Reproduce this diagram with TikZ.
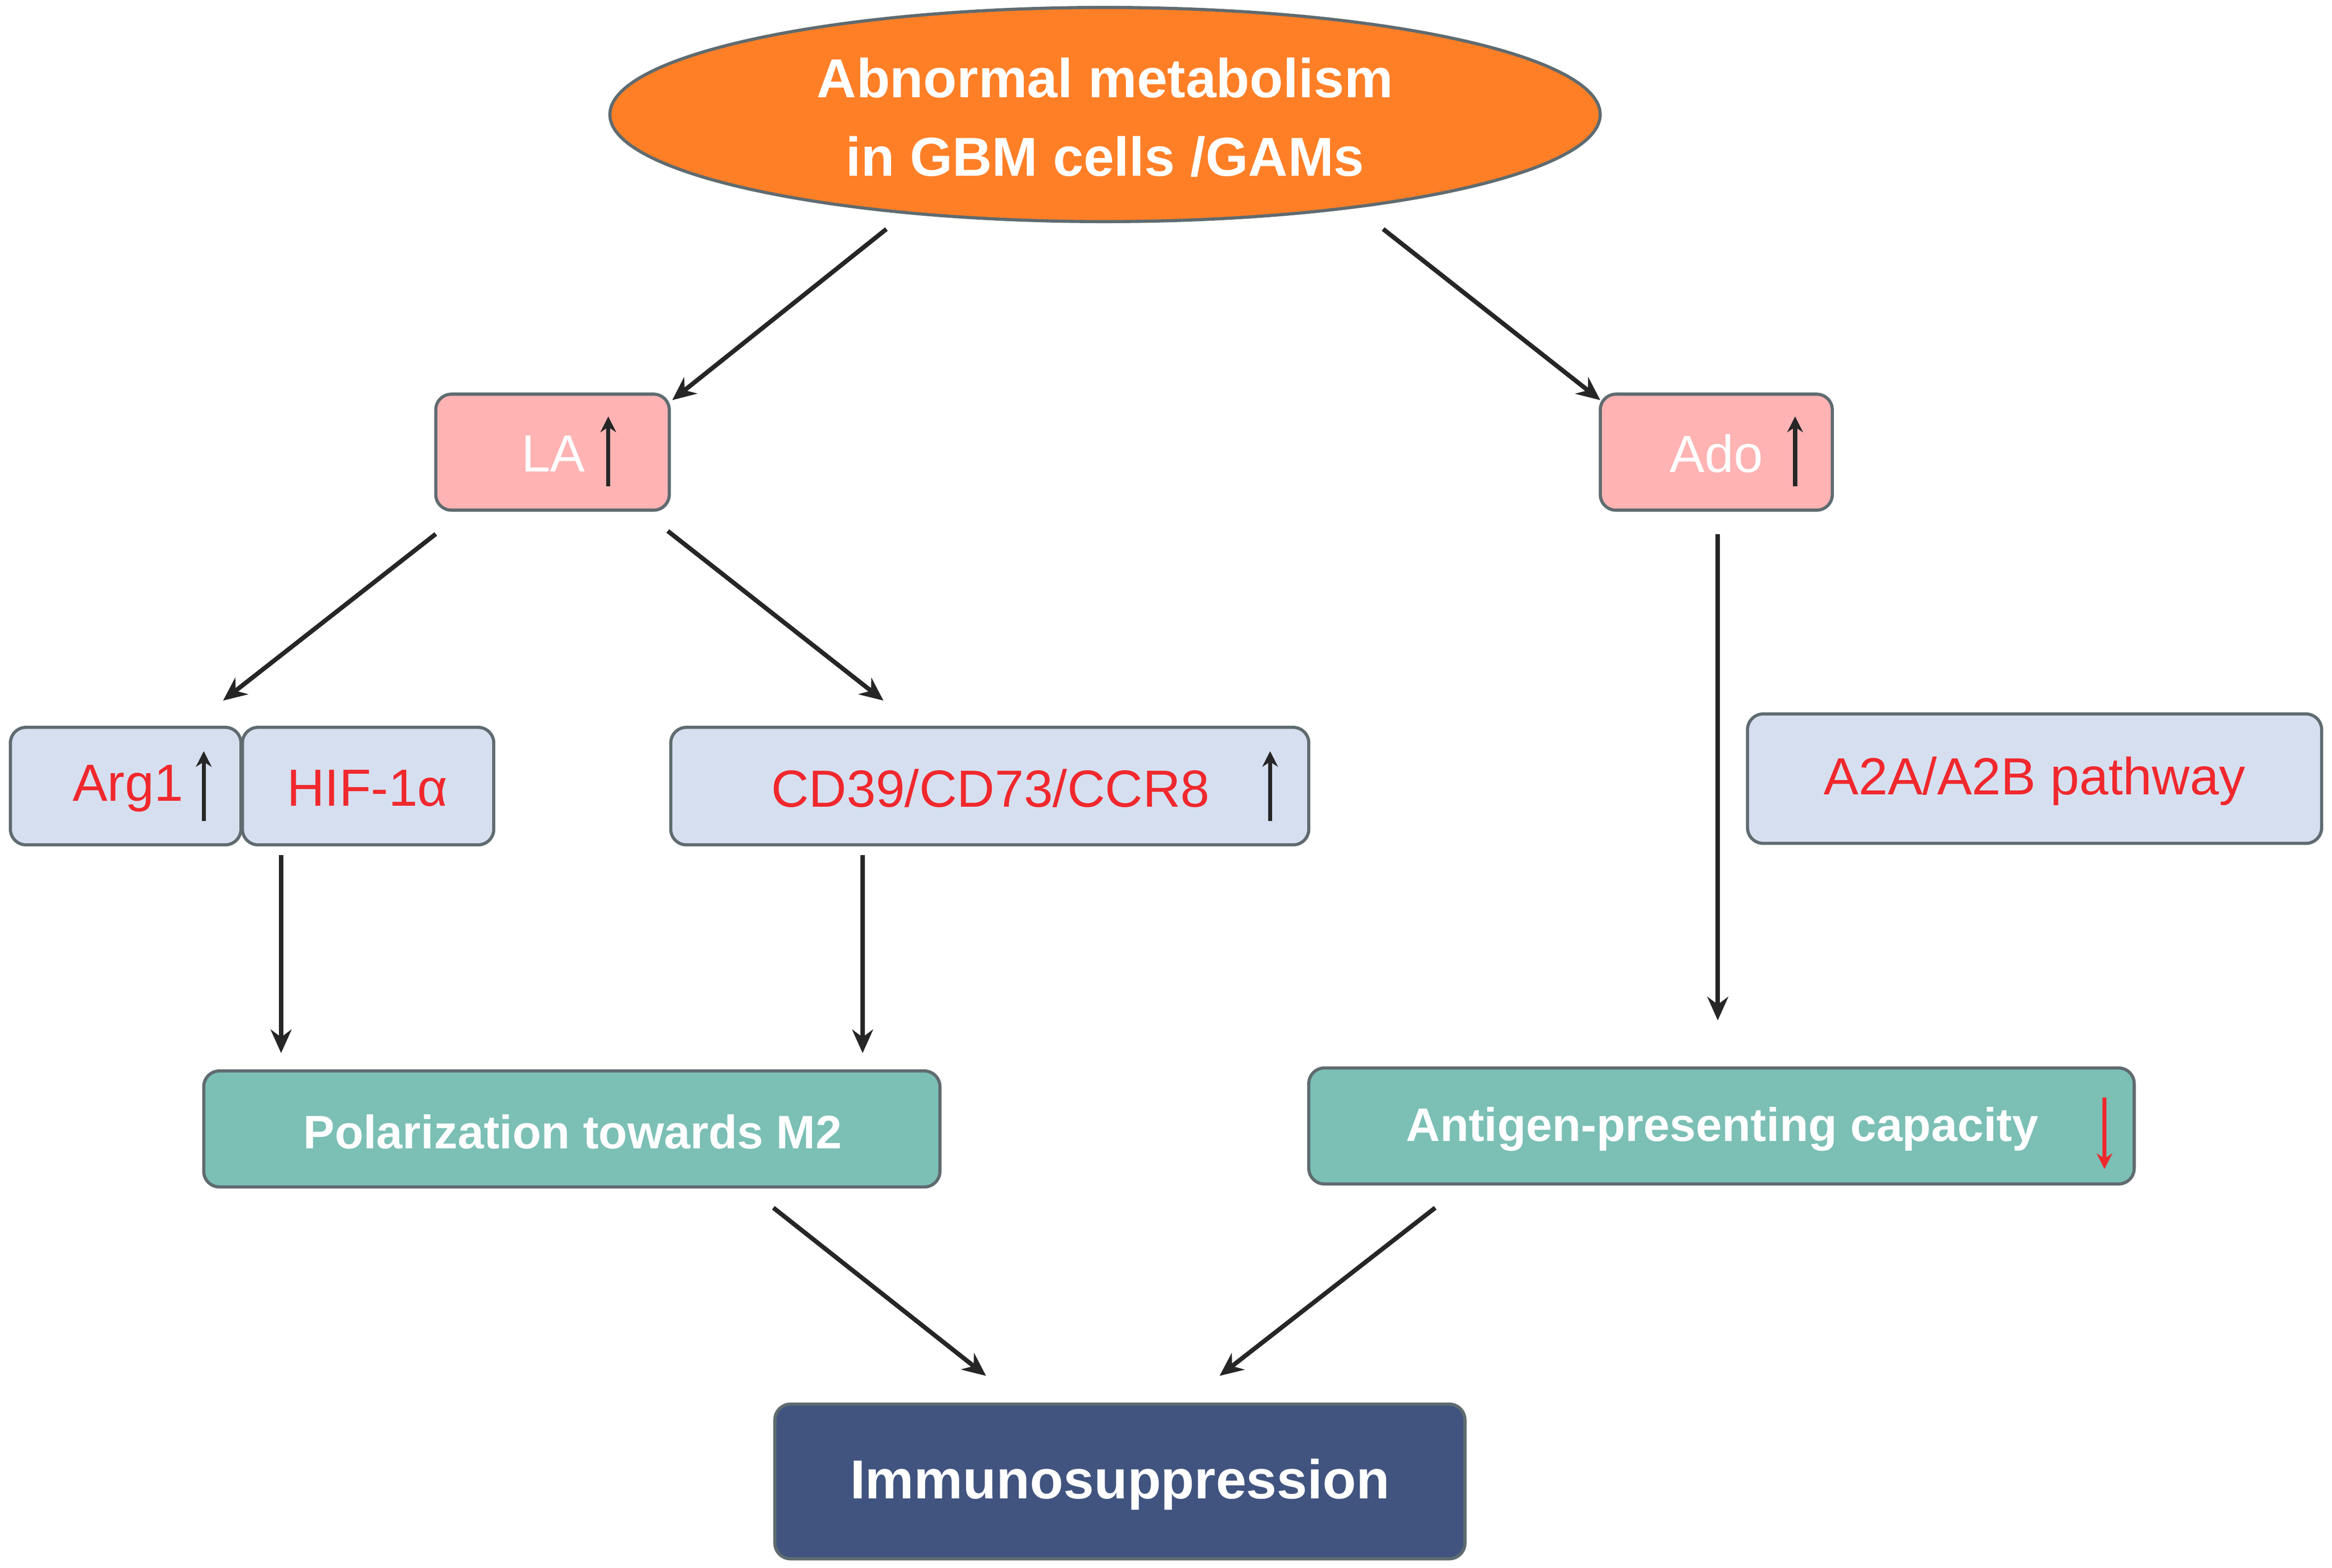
\documentclass[tikz,border=0pt]{standalone}
\usepackage{fontspec}
\setmainfont{Liberation Sans}
\usetikzlibrary{shapes.geometric,arrows.meta}
\definecolor{orng}{HTML}{FF7F27}
\definecolor{pnk}{HTML}{FFB3B3}
\definecolor{lblue}{HTML}{D6DFF0}
\definecolor{teal2}{HTML}{7BBFB5}
\definecolor{dblue}{HTML}{41547F}
\definecolor{redt}{HTML}{F0282D}
\definecolor{edge}{HTML}{5F6B70}
\begin{document}
\begin{tikzpicture}[x=0.02cm,y=-0.02cm,
 box/.style={draw=edge,line width=1.2pt,rounded corners=6pt},
 arr/.style={draw=black!85,line width=1.7pt,-{Stealth[length=9pt,width=8pt]}},
 uarr/.style={draw=black!85,line width=1.6pt,-{Stealth[length=6pt,width=6pt]}},
 rt/.style={text=redt,font=\fontsize{20}{24}\selectfont},
 wb/.style={text=white,font=\bfseries\fontsize{18}{22}\selectfont}]
\useasboundingbox (0,0) rectangle (1568,1054);
\node[ellipse,draw=edge,line width=1.2pt,fill=orng,minimum width=666\pgflinewidth*0+13.32cm,minimum height=2.88cm] (ell) at (743,77) {};
\node[text=white,font=\bfseries\fontsize{21}{30}\selectfont,align=center] (ellt) at (743,79) {Abnormal metabolism\\in GBM cells /GAMs};
\draw[box,fill=pnk] (293,265) rectangle (450,343) node[pos=0,inner sep=0] (lab) {};
\node[text=white,font=\fontsize{20}{24}\selectfont] (lat) at (372,305) {LA};
\draw[box,fill=pnk] (1076,265) rectangle (1232,343);
\node[text=white,font=\fontsize{20}{24}\selectfont] (adot) at (1154,305) {Ado};
\draw[box,fill=lblue] (7,489) rectangle (162,568);
\draw[box,fill=lblue] (163,489) rectangle (332,568);
\draw[box,fill=lblue] (451,489) rectangle (880,568);
\draw[box,fill=lblue] (1175,480) rectangle (1561,567);
\node[rt] (arg) at (86,530) {Arg1};
\node[rt] (hif) at (247,530) {HIF-1α};
\node[rt] (cd) at (666,530) {CD39/CD73/CCR8};
\node[rt] (a2a) at (1368,525) {A2A/A2B pathway};
\draw[box,fill=teal2] (137,720) rectangle (632,798);
\node[wb] (pol) at (385,761) {Polarization towards M2};
\draw[box,fill=teal2] (880,718) rectangle (1435,796);
\node[wb] (ant) at (1158,759) {Antigen-presenting capacity};
\draw[box,fill=dblue] (521,944) rectangle (985,1048);
\node[text=white,font=\bfseries\fontsize{21}{26}\selectfont] (imm) at (753,998) {Immunosuppression};
% small indicator arrows
\coordinate (u1a) at (409,327); \coordinate (u1b) at (409,280);
\coordinate (u2a) at (1207,327); \coordinate (u2b) at (1207,280);
\coordinate (u3a) at (137,552); \coordinate (u3b) at (137,505);
\coordinate (u4a) at (854,552); \coordinate (u4b) at (854,505);
\coordinate (d1a) at (1415,738); \coordinate (d1b) at (1415,786);
\draw[uarr] (u1a)--(u1b); \draw[uarr] (u2a)--(u2b);
\draw[uarr] (u3a)--(u3b); \draw[uarr] (u4a)--(u4b);
\draw[uarr,draw=redt] (d1a)--(d1b);
% connectors
\coordinate (a1) at (596,154); \coordinate (b1) at (452,269);
\coordinate (a2) at (930,154); \coordinate (b2) at (1076,269);
\coordinate (a3) at (293,359); \coordinate (b3) at (150,471);
\coordinate (a4) at (449,357); \coordinate (b4) at (594,471);
\coordinate (a5) at (1155,359); \coordinate (b5) at (1155,686);
\coordinate (a6) at (189,575); \coordinate (b6) at (189,708);
\coordinate (a7) at (580,575); \coordinate (b7) at (580,708);
\coordinate (a8) at (520,812); \coordinate (b8) at (663,925);
\coordinate (a9) at (965,812); \coordinate (b9) at (820,925);
\foreach \i in {1,...,9} \draw[arr] (a\i)--(b\i);
\end{tikzpicture}
\end{document}
